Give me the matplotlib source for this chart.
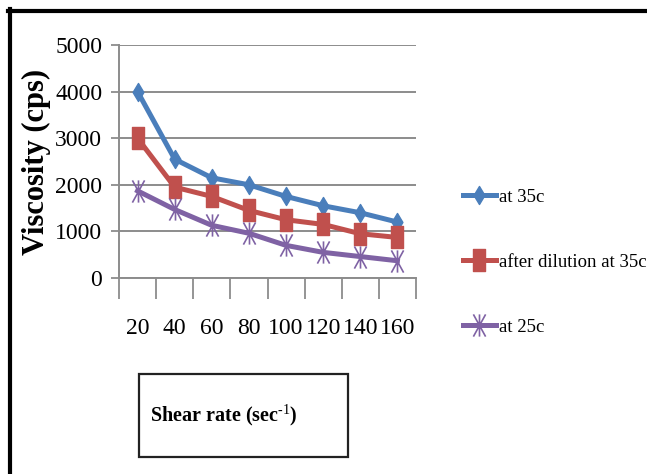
import matplotlib
matplotlib.use("Agg")
import matplotlib.pyplot as plt
from matplotlib.path import Path
from matplotlib.patches import Rectangle
from matplotlib.lines import Line2D

plt.rcParams['font.family'] = ['Liberation Serif', 'DejaVu Serif']
plt.rcParams['mathtext.fontset'] = 'custom'
plt.rcParams['mathtext.rm'] = 'Liberation Serif'
plt.rcParams['mathtext.bf'] = 'Liberation Serif:bold'

# shear rate categories and viscosity readings (cps)
shear_rate = [20, 40, 60, 80, 100, 120, 140, 160]
visc_35c = [4000, 2550, 2150, 2000, 1750, 1550, 1400, 1200]
visc_diluted_35c = [3000, 1950, 1750, 1450, 1250, 1150, 950, 870]
visc_25c = [1870, 1470, 1130, 960, 700, 550, 460, 370]
y_ticks = [0, 1000, 2000, 3000, 4000, 5000]

# tall marker shapes
diamond = Path([(0, 1), (0.6, 0), (0, -1), (-0.6, 0), (0, 1)],
               [Path.MOVETO, Path.LINETO, Path.LINETO, Path.LINETO, Path.CLOSEPOLY])
tall_square = Path([(-0.5, -1), (0.5, -1), (0.5, 1), (-0.5, 1), (-0.5, -1)],
                   [Path.MOVETO, Path.LINETO, Path.LINETO, Path.LINETO, Path.CLOSEPOLY])
star = Path([(-0.55, -1), (0.55, 1), (-0.55, 1), (0.55, -1), (0, -1), (0, 1)],
            [Path.MOVETO, Path.LINETO, Path.MOVETO, Path.LINETO, Path.MOVETO, Path.LINETO])

W, H = 647, 474
fig = plt.figure(figsize=(W / 100, H / 100), dpi=100)
ax = fig.add_axes([119 / W, (H - 278) / H, 297 / W, 233 / H])

pos = list(range(1, len(shear_rate) + 1))
blue, red, purple = '#4A7EBB', '#C0504D', '#7F62A4'

ax.plot(pos, visc_35c, color=blue, lw=3.6, marker=diamond, ms=13,
        mfc=blue, mec=blue, label='at 35c', zorder=3)
ax.plot(pos, visc_diluted_35c, color=red, lw=3.6, marker=tall_square, ms=16,
        mfc=red, mec=red, label='after dilution at 35c', zorder=3)
ax.plot(pos, visc_25c, color=purple, lw=3.6, marker=star, ms=16,
        mfc='none', mec=purple, mew=1.2, label='at 25c', zorder=3)

ax.set_xlim(0.5, len(shear_rate) + 0.5)
ax.set_ylim(0, 5000)
ax.set_yticks(y_ticks)
ax.set_yticklabels([str(v) for v in y_ticks], fontsize=17)
ax.yaxis.grid(True, color='#8c8c8c', lw=1.4)
ax.set_axisbelow(True)

# boundary ticks between categories, labels at category centres
ax.set_xticks([p - 0.5 for p in pos] + [pos[-1] + 0.5])
ax.set_xticklabels([])
ax.set_xticks(pos, minor=True)
ax.set_xticklabels([str(s) for s in shear_rate], minor=True, fontsize=17)
ax.tick_params(axis='x', which='major', length=15, width=1.3, color='#8c8c8c')
ax.tick_params(axis='x', which='minor', length=0, pad=29)
ax.tick_params(axis='y', length=6, width=1.3, color='#8c8c8c', pad=6)

for side in ('top', 'right'):
    ax.spines[side].set_visible(False)
for side in ('left', 'bottom'):
    ax.spines[side].set_color('#8c8c8c')
    ax.spines[side].set_linewidth(1.4)

fig.text(36 / W, 1 - 162 / H, 'Viscosity (cps)', rotation=90, fontsize=22,
         fontweight='bold', ha='center', va='center')

ax.legend(loc='upper left', bbox_to_anchor=(455 / W, 1 - 181 / H),
          bbox_transform=fig.transFigure, frameon=False, fontsize=13.5,
          handlelength=1.8, handletextpad=0.15, labelspacing=2.55,
          numpoints=1, borderaxespad=0)

# x-axis title in its own box
fig.add_artist(Rectangle((139 / W, 1 - 457 / H), 209 / W, 83 / H,
                         transform=fig.transFigure, fill=False,
                         ec='#222222', lw=1.6))
fig.text(150 / W, 1 - 415 / H, r'Shear rate (sec$^{\text{-1}}$)',
         fontsize=14.5, fontweight='bold', ha='left', va='center')

# outer frame edges
fig.add_artist(Line2D([8 / W, 1], [1 - 11 / H, 1 - 11 / H],
                      transform=fig.transFigure, color='black', lw=3))
fig.add_artist(Line2D([10 / W, 10 / W], [0, 1 - 9 / H],
                      transform=fig.transFigure, color='black', lw=3))

fig.savefig('out.png', dpi=100, facecolor='white')
